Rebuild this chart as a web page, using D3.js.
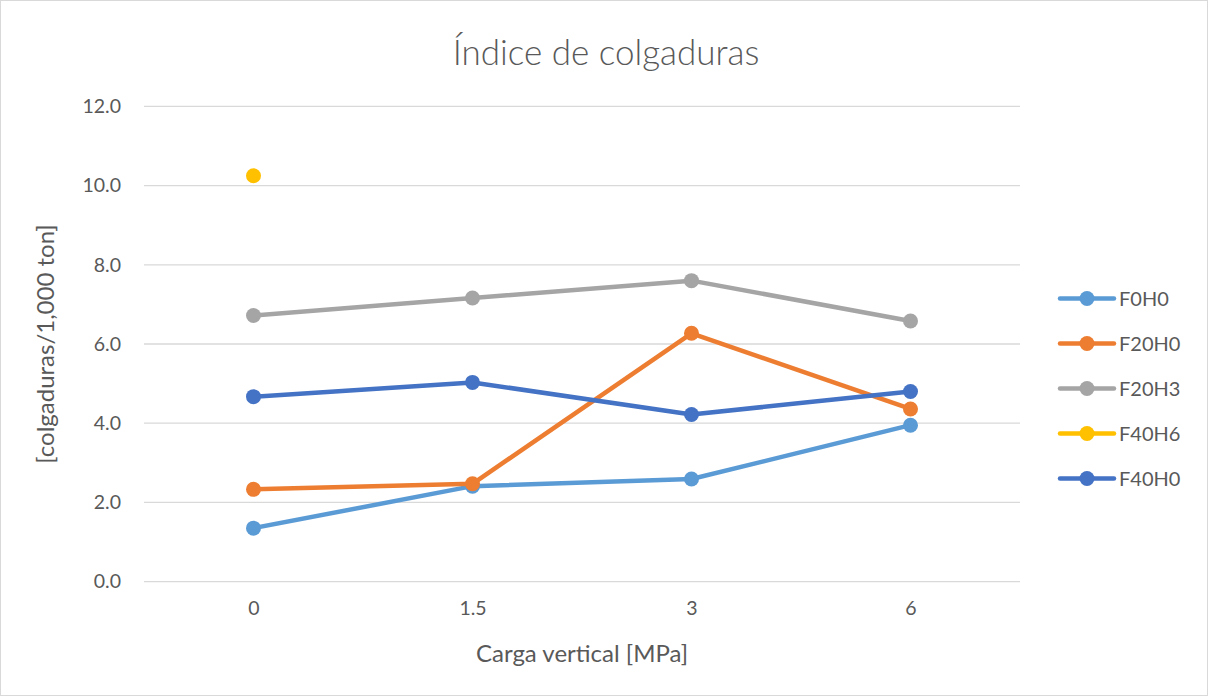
<!DOCTYPE html>
<html>
<head>
<meta charset="utf-8">
<script src="https://cdn.jsdelivr.net/npm/d3@7"></script>
<style>
	body { margin: 0; background: #fff; }
	svg text { font-family: Lato, "Open Sans", sans-serif; fill: #595959; }
</style>
</head>
<body>
<svg id="chart" width="1208" height="696"></svg>
<script>
'use strict';

var aCategories = ['0', '1.5', '3', '6'];
var aSeriesNames = ['F0H0', 'F20H0', 'F20H3', 'F40H6', 'F40H0'];
var aF0H0 = [1.35, 2.41, 2.59, 3.95];
var aF20H0 = [2.33, 2.47, 6.27, 4.36];
var aF20H3 = [6.72, 7.16, 7.60, 6.58];
var aF40H6 = [10.25, null, null, null];
var aF40H0 = [4.67, 5.03, 4.22, 4.80];
var aYTicks = [0, 2, 4, 6, 8, 10, 12];
var aColors = ['#5B9BD5', '#ED7D31', '#A5A5A5', '#FFC000', '#4472C4'];

var aSeries = [aF0H0, aF20H0, aF20H3, aF40H6, aF40H0].map(function(vals, i)
{
	return { name: aSeriesNames[i], color: aColors[i], values: vals };
});

var sSvg = d3.select('#chart');
var rPlot = { left: 144, right: 1020, top: 106.4, bottom: 581.6 };

// outer border
sSvg.append('rect')
	.attr('x', 0.5).attr('y', 0.5)
	.attr('width', 1207).attr('height', 695)
	.attr('fill', '#fff')
	.attr('stroke', '#D9D9D9');

var scaleX = d3.scalePoint()
	.domain(aCategories)
	.range([rPlot.left, rPlot.right])
	.padding(0.5);

var scaleY = d3.scaleLinear()
	.domain([0, 12])
	.range([rPlot.bottom, rPlot.top]);

// gridlines
sSvg.append('g')
	.selectAll('line')
	.data(aYTicks)
	.enter()
		.append('line')
			.attr('x1', rPlot.left)
			.attr('x2', rPlot.right)
			.attr('y1', function(d) { return scaleY(d); })
			.attr('y2', function(d) { return scaleY(d); })
			.attr('stroke', '#D9D9D9')
			.attr('stroke-width', 1.3);

// y axis labels
var axisY = d3.axisLeft(scaleY)
	.tickValues(aYTicks)
	.tickFormat(d3.format('.1f'))
	.tickSize(0)
	.tickPadding(23);

var sAxisY = sSvg.append('g')
	.attr('transform', 'translate(' + rPlot.left + ',0)')
	.call(axisY);
sAxisY.select('.domain').remove();
sAxisY.selectAll('text')
	.style('font-size', '19.5px')
	.style('font-family', 'Lato, sans-serif')
	.style('fill', '#595959');

// x axis labels
var axisX = d3.axisBottom(scaleX)
	.tickSize(0)
	.tickPadding(20);

var sAxisX = sSvg.append('g')
	.attr('transform', 'translate(0,' + rPlot.bottom + ')')
	.call(axisX);
sAxisX.select('.domain').remove();
sAxisX.selectAll('text')
	.style('font-size', '19.5px')
	.style('font-family', 'Lato, sans-serif')
	.style('fill', '#595959');

// titles
sSvg.append('text')
	.attr('x', 606)
	.attr('y', 65)
	.attr('text-anchor', 'middle')
	.style('font-size', '35px')
	.style('font-weight', 300)
	.text('Índice de colgaduras');

sSvg.append('text')
	.attr('x', (rPlot.left + rPlot.right) / 2)
	.attr('y', 662)
	.attr('text-anchor', 'middle')
	.style('font-size', '24px')
	.text('Carga vertical [MPa]');

sSvg.append('text')
	.attr('transform', 'translate(54,' + (rPlot.top + rPlot.bottom) / 2 + ') rotate(-90)')
	.attr('text-anchor', 'middle')
	.style('font-size', '24px')
	.text('[colgaduras/1,000 ton]');

// lines and markers
var line = d3.line()
	.defined(function(d) { return d != null; })
	.x(function(d, i) { return scaleX(aCategories[i]); })
	.y(function(d) { return scaleY(d); });

var sSeries = sSvg.selectAll('.series')
	.data(aSeries)
	.enter()
		.append('g')
			.attr('class', 'series');

sSeries.append('path')
	.attr('d', function(s) { return line(s.values); })
	.attr('fill', 'none')
	.attr('stroke', function(s) { return s.color; })
	.attr('stroke-width', 4.5)
	.attr('stroke-linejoin', 'round')
	.attr('stroke-linecap', 'round');

sSeries.selectAll('circle')
	.data(function(s)
	{
		return s.values.map(function(v, i) { return { v: v, i: i, color: s.color }; })
			.filter(function(p) { return p.v != null; });
	})
	.enter()
		.append('circle')
			.attr('cx', function(p) { return scaleX(aCategories[p.i]); })
			.attr('cy', function(p) { return scaleY(p.v); })
			.attr('r', 7.5)
			.attr('fill', function(p) { return p.color; });

// legend
var sLegends = sSvg.append('g')
	.selectAll('.legend')
	.data(aSeries)
	.enter()
		.append('g')
			.attr('class', 'legend')
			.attr('transform', function(d, i) { return 'translate(1060,' + (298.5 + i * 45) + ')'; });

sLegends.append('line')
	.attr('x1', 0)
	.attr('x2', 54)
	.attr('stroke', function(d) { return d.color; })
	.attr('stroke-width', 4.5)
	.attr('stroke-linecap', 'round');

sLegends.append('circle')
	.attr('cx', 27)
	.attr('r', 7.5)
	.attr('fill', function(d) { return d.color; });

sLegends.append('text')
	.attr('x', 59)
	.attr('dy', '0.36em')
	.style('font-size', '20px')
	.text(function(d) { return d.name; });
</script>
</body>
</html>
